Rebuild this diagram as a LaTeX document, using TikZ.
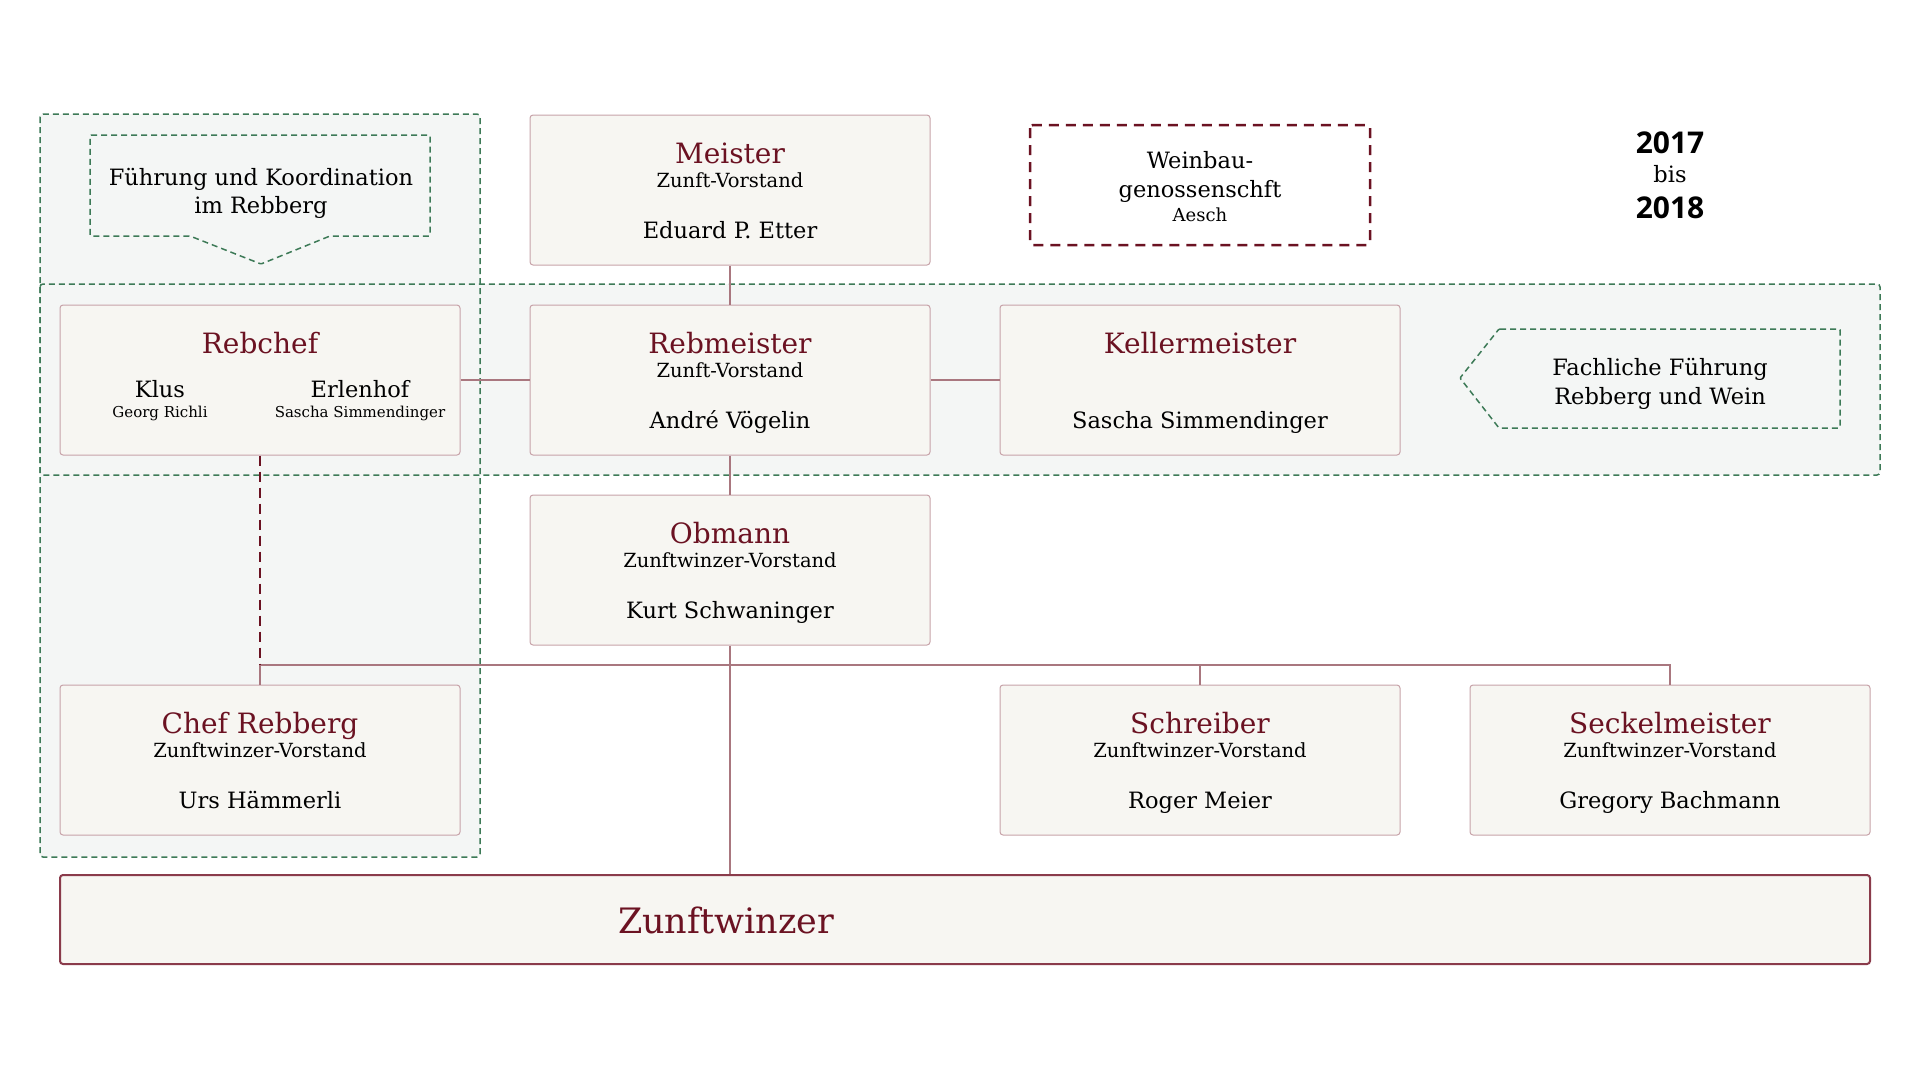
\documentclass[tikz,border=0pt]{standalone}
\usepackage{fontspec}
\setmainfont{DejaVu Serif}
\newfontfamily\jahrfont{Open Sans}
\definecolor{weinrot}{HTML}{6B1222}
\definecolor{boxrand}{HTML}{C7A3A9}
\definecolor{boxgrund}{HTML}{F7F6F2}
\definecolor{linienrot}{HTML}{A9777F}
\definecolor{gruen}{HTML}{3D7A57}
\definecolor{bereichgrund}{HTML}{F4F6F5}
\definecolor{zunftrand}{HTML}{8A3B4B}
\tikzset{
  orgbox/.style={draw=boxrand,fill=boxgrund,rounded corners=3pt,line width=1pt,
    minimum width=400pt,minimum height=150pt,inner sep=0pt},
  titel/.style={anchor=base,text=weinrot,font=\fontsize{28}{32}\selectfont},
  amt/.style={anchor=base,font=\fontsize{19.5}{24}\selectfont},
  person/.style={anchor=base,font=\fontsize{22.5}{28}\selectfont},
  klein/.style={anchor=base,font=\fontsize{15}{18}\selectfont},
  jahr/.style={anchor=base,font=\fontsize{30}{36}\jahrfont\bfseries},
  linie/.style={draw=linienrot,line width=1.3pt},
  bereichrand/.style={draw=gruen,line width=1.5pt,dash pattern=on 6pt off 4pt,rounded corners=3pt},
}
\begin{document}
\begin{tikzpicture}[x=1pt,y=-1pt]
  \useasboundingbox (0,0) rectangle (1920,1080);
  % gruene Bereiche
  \fill[bereichgrund,rounded corners=3pt] (40,114) rectangle (480,857);
  \fill[bereichgrund,rounded corners=3pt] (40,284) rectangle (1880,475);
  \draw[bereichrand] (40,114) rectangle (480,857);
  \draw[bereichrand] (40,284) rectangle (1880,475);
  \draw[bereichrand,rounded corners=1pt] (90,135) -- (430,135) -- (430,236) -- (330,236)
    -- (261,264) -- (190,236) -- (90,236) -- cycle;
  \draw[bereichrand,rounded corners=1pt] (1499,329) -- (1840,329) -- (1840,428)
    -- (1499,428) -- (1460,378) -- cycle;
  \node[person] (fuehrung1) at (261,185) {Führung und Koordination};
  \node[person] (fuehrung2) at (261,213) {im Rebberg};
  \node[person] (fachlich1) at (1660,375) {Fachliche Führung};
  \node[person] (fachlich2) at (1660,404) {Rebberg und Wein};
  % Weinbaugenossenschaft
  \draw[weinrot,line width=2.5pt,dash pattern=on 10pt off 7pt,rounded corners=3pt]
    (1030,125) rectangle (1370,245);
  \node[person] (weinbau1) at (1200,168) {Weinbau-};
  \node[person] (weinbau2) at (1200,197) {genossenschft};
  \node[anchor=base,font=\fontsize{18}{22}\selectfont] (aesch) at (1200,221) {Aesch};
  % Jahre
  \node[jahr] (von) at (1670,153) {2017};
  \node[person] (bis) at (1670,182) {bis};
  \node[jahr] (bis2) at (1670,218) {2018};
  % Aemter
  \foreach \id/\x/\y/\titel/\amt/\person in {
    meister/730/190/Meister/Zunft-Vorstand/Eduard P. Etter,
    rebmeister/730/380/Rebmeister/Zunft-Vorstand/André Vögelin,
    kellermeister/1200/380/Kellermeister//Sascha Simmendinger,
    obmann/730/570/Obmann/Zunftwinzer-Vorstand/Kurt Schwaninger,
    chefrebberg/260/760/Chef Rebberg/Zunftwinzer-Vorstand/Urs Hämmerli,
    schreiber/1200/760/Schreiber/Zunftwinzer-Vorstand/Roger Meier,
    seckelmeister/1670/760/Seckelmeister/Zunftwinzer-Vorstand/Gregory Bachmann} {
    \node[orgbox] (\id) at (\x,\y) {};
    \node[titel] (\id-titel) at ([yshift=-49pt]\id.north) {\titel};
    \node[amt] (\id-amt) at ([yshift=-73pt]\id.north) {\amt};
    \node[person] (\id-person) at ([yshift=-124pt]\id.north) {\person};
  }
  % Rebchef
  \node[orgbox] (rebchef) at (260,380) {};
  \node[titel] (rebchef-titel) at (260,353) {Rebchef};
  \node[person] (klus) at (160,397) {Klus};
  \node[klein] (klus-person) at (160,417) {Georg Richli};
  \node[person] (erlenhof) at (360,397) {Erlenhof};
  \node[klein] (erlenhof-person) at (360,417) {Sascha Simmendinger};
  % Zunftwinzer
  \node[orgbox,draw=zunftrand,line width=2pt,minimum width=1810pt,minimum height=89pt]
    (zunftwinzer) at (965,919.5) {};
  \node[titel,font=\fontsize{35}{40}\selectfont] (zunftwinzer-titel) at (726,933) {Zunftwinzer};
  % Verbindungen
  \foreach \a/\b in {meister/rebmeister, rebchef/rebmeister, rebmeister/kellermeister, rebmeister/obmann} {
    \draw[linie] (\a) -- (\b);
  }
  \coordinate (knoten) at (730,665);
  \draw[linie] (obmann.south) -- (obmann.south |- zunftwinzer.north);
  \draw[linie] (chefrebberg.north) -- (chefrebberg.north |- knoten)
    -- (seckelmeister.north |- knoten) -- (seckelmeister.north);
  \draw[linie] (schreiber.north) -- (schreiber.north |- knoten);
  \draw[linie,draw=weinrot,dash pattern=on 10pt off 6pt] (rebchef.south) -- (rebchef.south |- knoten);
\end{tikzpicture}
\end{document}
